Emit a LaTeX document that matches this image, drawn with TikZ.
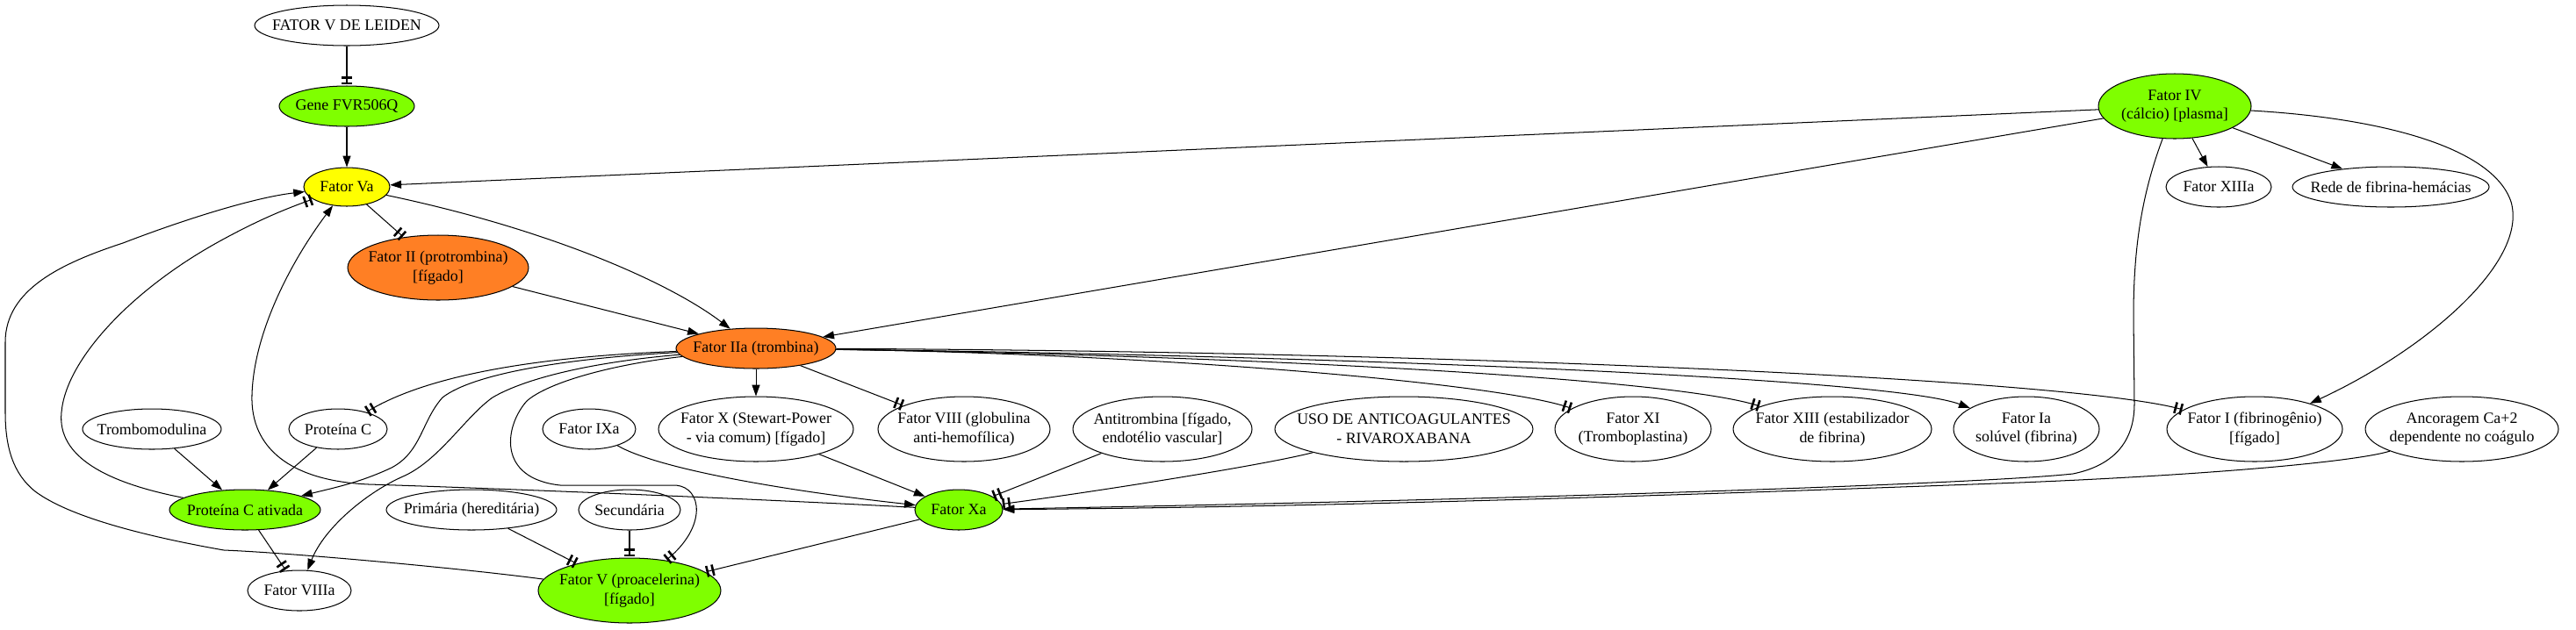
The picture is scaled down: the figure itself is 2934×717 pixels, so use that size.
\documentclass[tikz,border=0pt]{standalone}
\usepackage{fontspec}
\setmainfont{Liberation Serif}
\usetikzlibrary{arrows.meta,shapes.geometric}
\definecolor{gvgreen}{HTML}{7FFF00}
\definecolor{gvyellow}{HTML}{FFFF00}
\definecolor{gvorange}{HTML}{FF7F24}
\begin{document}
\begin{tikzpicture}[x=0.78247pt, y=-0.78247pt,
  ell/.style={draw, ellipse, line width=0.8pt, inner sep=0pt, fill=white},
  sz/.style 2 args={minimum width=#1*0.78247pt, minimum height=#2*0.78247pt},
  lbl/.style={align=center, inner sep=0pt, font=\fontsize{14pt}{17pt}\selectfont},
  edge/.style={line width=0.8pt},
  arr/.style={-{Triangle[length=10pt,width=7pt]}},
  tee/.style={-{Rectangle[length=2pt,width=10pt,sep=3pt]Rectangle[length=2pt,width=10pt,sep=1pt]}}
]
\fill[white] (0,0) rectangle (2934,717);
\useasboundingbox (0,0) rectangle (2934,717);

% rank 0-2
\node[ell, sz={210}{46}, label={[lbl]center:FATOR V DE LEIDEN}] (leiden) at (395,29) {};
\node[ell, fill=gvgreen, sz={154}{46}, label={[lbl]center:Gene FVR506Q}] (gene) at (395,121) {};
\node[ell, fill=gvgreen, sz={174}{74}, label={[lbl]center:{Fator IV\\(cálcio) [plasma]}}] (fiv) at (2477,121) {};
\node[ell, fill=gvyellow, sz={98}{44}, label={[lbl]center:Fator Va}] (fva) at (395,213) {};
\node[ell, sz={120}{46}, label={[lbl]center:Fator XIIIa}] (fxiiia) at (2527,213) {};
\node[ell, sz={224}{46}, label={[lbl]center:Rede de fibrina-hemácias}] (rede) at (2723,213) {};
% rank 3-4
\node[ell, fill=gvorange, sz={206}{74}, label={[lbl]center:{Fator II (protrombina)\\{}[fígado]}}] (fii) at (499,305) {};
\node[ell, fill=gvorange, sz={182}{46}, label={[lbl]center:Fator IIa (trombina)}] (fiia) at (861,397) {};
% rank 5
\node[ell, sz={158}{46}, label={[lbl]center:Trombomodulina}] (tromb) at (173,489) {};
\node[ell, sz={112}{46}, label={[lbl]center:Proteína C}] (protc) at (385,489) {};
\node[ell, sz={106}{46}, label={[lbl]center:Fator IXa}] (fixa) at (671,489) {};
\node[ell, sz={222}{74}, label={[lbl]center:{Fator X (Stewart-Power\\- via comum) [fígado]}}] (fx) at (861,489) {};
\node[ell, sz={196}{74}, label={[lbl]center:{Fator VIII (globulina\\anti-hemofílica)}}] (fviii) at (1098,489) {};
\node[ell, sz={204}{74}, label={[lbl]center:{Antitrombina [fígado,\\endotélio vascular]}}] (antit) at (1324,489) {};
\node[ell, sz={294}{74}, label={[lbl]center:{USO DE ANTICOAGULANTES\\- RIVAROXABANA}}] (uso) at (1599,489) {};
\node[ell, sz={178}{74}, label={[lbl]center:{Fator XI\\(Tromboplastina)}}] (fxi) at (1860,489) {};
\node[ell, sz={226}{74}, label={[lbl]center:{Fator XIII (estabilizador\\de fibrina)}}] (fxiii) at (2087,489) {};
\node[ell, sz={166}{74}, label={[lbl]center:{Fator Ia\\solúvel (fibrina)}}] (fia) at (2308,489) {};
\node[ell, sz={200}{74}, label={[lbl]center:{Fator I (fibrinogênio)\\{}[fígado]}}] (fi) at (2568,489) {};
\node[ell, sz={220}{74}, label={[lbl]center:{Ancoragem Ca+2\\dependente no coágulo}}] (ancor) at (2804,489) {};
% rank 6
\node[ell, fill=gvgreen, sz={172}{46}, label={[lbl]center:Proteína C ativada}] (apc) at (279,581) {};
\node[ell, sz={194}{46}, label={[lbl]center:Primária (hereditária)}] (prim) at (537,581) {};
\node[ell, sz={116}{46}, label={[lbl]center:Secundária}] (sec) at (717,581) {};
\node[ell, fill=gvgreen, sz={100}{46}, label={[lbl]center:Fator Xa}] (fxa) at (1092,581) {};
% rank 7
\node[ell, sz={118}{46}, label={[lbl]center:Fator VIIIa}] (fviiia) at (341,673) {};
\node[ell, fill=gvgreen, sz={208}{74}, label={[lbl]center:{Fator V (proacelerina)\\{}[fígado]}}] (fv) at (717,673) {};

% edges
\draw[edge,tee] (leiden) -- (gene);
\draw[edge,arr] (gene) -- (fva);
\draw[edge,arr] (fiv) -- (fva);
\draw[edge,tee] (fva) -- (fii);
\draw[edge,arr] (fva) .. controls (620,260) and (760,320) .. (fiia);
\draw[edge,arr] (fii) -- (fiia);
\draw[edge,arr] (fiv) -- (fiia);
\draw[edge,arr] (fv) .. controls (520,647) and (330,630) .. (255,627)
  .. controls (170,612) and (80,590) .. (40,560)
  .. controls (15,540) and (6,510) .. (6,470) -- (6,390)
  .. controls (6,330) and (70,300) .. (140,277)
  .. controls (210,250) and (290,225) .. (fva);
\draw[edge,tee] (apc) .. controls (120,550) and (65,520) .. (70,470)
  .. controls (75,410) and (150,330) .. (250,275)
  .. controls (290,253) and (320,240) .. (fva);
\draw[edge,arr] (fxa) .. controls (850,568) and (550,556) .. (420,552)
  .. controls (330,548) and (285,510) .. (287,450)
  .. controls (289,380) and (330,300) .. (fva);
\draw[edge,arr] (fixa) .. controls (750,535) and (900,560) .. (fxa);
\draw[edge,arr] (fx) -- (fxa);
\draw[edge,tee] (antit) -- (fxa);
\draw[edge,tee] (uso) .. controls (1440,530) and (1250,560) .. (fxa);
\draw[edge,arr] (fiv) .. controls (2440,220) and (2430,280) .. (2430,360) -- (2431,460)
  .. controls (2431,510) and (2400,532) .. (2361,540)
  .. controls (2250,552) and (1700,570) .. (fxa);
\draw[edge,arr] (ancor) .. controls (2680,527) and (2500,542) .. (2300,550)
  .. controls (1900,565) and (1500,578) .. (fxa);
\draw[edge,tee] (fxa) -- (fv);
\draw[edge,arr] (fiia) -- (fx);
\draw[edge,tee] (fiia) -- (fviii);
\draw[edge,tee] (fiia) .. controls (650,405) and (500,420) .. (protc);
\draw[edge,arr] (fiia) .. controls (650,408) and (540,425) .. (504,453)
  .. controls (480,480) and (480,515) .. (446,533)
  .. controls (410,550) and (380,556) .. (apc);
\draw[edge,arr] (fiia) .. controls (680,412) and (600,430) .. (561,453)
  .. controls (530,475) and (500,525) .. (459,543)
  .. controls (420,560) and (370,600) .. (fviiia);
\draw[edge,tee] (fiia) .. controls (700,415) and (625,435) .. (600,457)
  .. controls (575,485) and (565,545) .. (638,553) -- (770,553)
  .. controls (800,556) and (805,600) .. (fv);
\draw[edge,tee] (fiia) .. controls (1300,403) and (1700,435) .. (fxi);
\draw[edge,tee] (fiia) .. controls (1400,405) and (1900,430) .. (fxiii);
\draw[edge,arr] (fiia) .. controls (1500,405) and (2150,430) .. (fia);
\draw[edge,tee] (fiia) .. controls (1600,400) and (2350,430) .. (fi);
\draw[edge,arr] (fiv) -- (fxiiia);
\draw[edge,arr] (fiv) -- (rede);
\draw[edge,arr] (fiv) .. controls (2720,135) and (2840,170) .. (2860,230)
  .. controls (2880,300) and (2760,400) .. (fi);
\draw[edge,arr] (tromb) -- (apc);
\draw[edge,arr] (protc) -- (apc);
\draw[edge,tee] (apc) -- (fviiia);
\draw[edge,tee] (prim) -- (fv);
\draw[edge,tee] (sec) -- (fv);
\end{tikzpicture}
\end{document}
